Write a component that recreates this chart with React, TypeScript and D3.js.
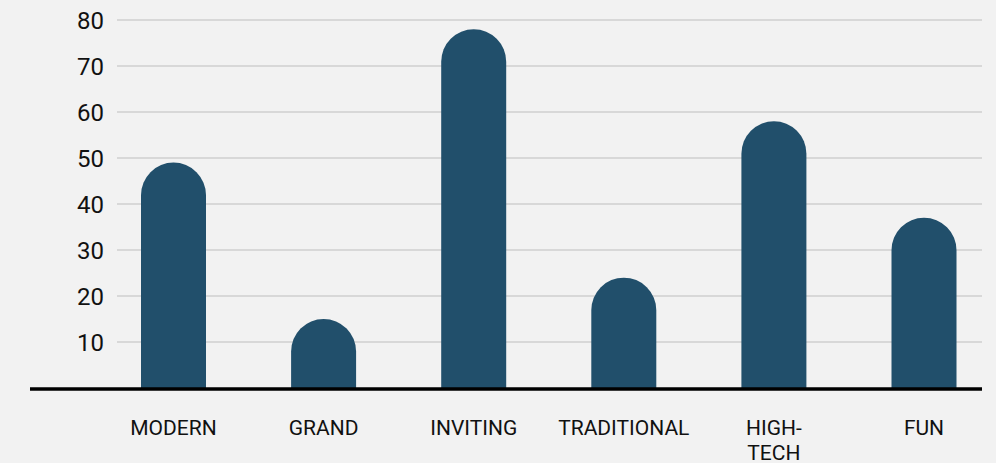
import { useEffect, useRef } from "react"
import * as d3 from "d3"

const categories = ["MODERN", "GRAND", "INVITING", "TRADITIONAL", "HIGH-TECH", "FUN"]
const values = [49, 15, 78, 24, 58, 37]
const yTicks = [10, 20, 30, 40, 50, 60, 70, 80]

const W = 996
const H = 463

export default function App() {
  const svgRef = useRef<SVGSVGElement>(null)

  useEffect(() => {
    if (!svgRef.current) return
    const svg = d3.select(svgRef.current)
    svg.selectAll("*").remove()

    const x = d3
      .scaleBand<string>()
      .domain(categories)
      .range([98.45, 999.05])
      .paddingInner(0.567)
      .paddingOuter(0.2835)

    const y = d3.scaleLinear().domain([0, 80]).range([388, 20])

    svg.append("rect").attr("width", W).attr("height", H).attr("fill", "#f2f2f2")

    // gridlines
    svg
      .append("g")
      .selectAll("line")
      .data(yTicks)
      .enter()
      .append("line")
      .attr("x1", 117)
      .attr("x2", 982)
      .attr("y1", (d) => y(d))
      .attr("y2", (d) => y(d))
      .attr("stroke", "#bdbdbd")
      .attr("stroke-width", 1.2)

    // tick labels
    svg
      .append("g")
      .selectAll("text")
      .data(yTicks)
      .enter()
      .append("text")
      .attr("x", 104)
      .attr("y", (d) => y(d))
      .attr("dy", "0.36em")
      .attr("text-anchor", "end")
      .attr("font-family", "Roboto, sans-serif")
      .attr("font-size", "24px")
      .attr("fill", "#111")
      .text((d) => d)

    // bars with rounded tops
    const bw = x.bandwidth()
    const r = bw / 2
    svg
      .append("g")
      .selectAll("path")
      .data(categories.map((c, i) => ({ c, v: values[i] })))
      .enter()
      .append("path")
      .attr("fill", "#214f6b")
      .attr("d", (d) => {
        const x0 = x(d.c)!
        const top = y(d.v)
        const base = y(0)
        return `M${x0},${base}L${x0},${top + r}A${r},${r} 0 0 1 ${x0 + bw},${top + r}L${x0 + bw},${base}Z`
      })

    // baseline
    svg
      .append("line")
      .attr("x1", 30)
      .attr("x2", 982)
      .attr("y1", 389)
      .attr("y2", 389)
      .attr("stroke", "#000")
      .attr("stroke-width", 3.5)

    // category labels
    const labels = svg
      .append("g")
      .selectAll("text")
      .data(categories)
      .enter()
      .append("text")
      .attr("x", (d) => x(d)! + bw / 2)
      .attr("y", 435)
      .attr("text-anchor", "middle")
      .attr("font-family", "Roboto, sans-serif")
      .attr("font-size", "21px")
      .attr("fill", "#111")

    labels.each(function (d) {
      const parts = d === "HIGH-TECH" ? ["HIGH-", "TECH"] : [d]
      const t = d3.select(this)
      parts.forEach((p, i) => {
        t.append("tspan")
          .attr("x", x(d)! + bw / 2)
          .attr("dy", i === 0 ? 0 : 25)
          .text(p)
      })
    })
  }, [])

  return (
    <svg
      ref={svgRef}
      width={W}
      height={H}
      style={{ position: "absolute", left: 0, top: 0, display: "block" }}
    />
  )
}
